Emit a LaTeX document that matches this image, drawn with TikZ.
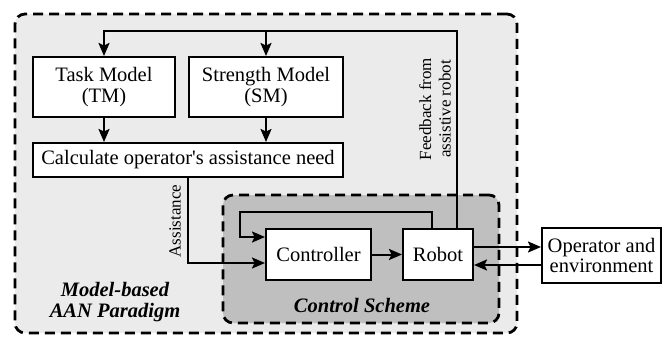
\documentclass[tikz,border=0pt]{standalone}
\usepackage{fontspec}
\setmainfont{Liberation Serif}[Ligatures=TeXOff]
\usetikzlibrary{arrows.meta}
\definecolor{outerfill}{HTML}{EBEBEB}
\definecolor{innerfill}{HTML}{BFBFBF}
\begin{document}
\begin{tikzpicture}[x=1pt,y=-1pt,
  box/.style={draw,line width=2pt,fill=white,inner sep=0pt,align=center},
  conn/.style={line width=2pt},
  arr/.style={conn,-{Stealth[length=13pt,width=11pt,inset=2.5pt]}},
  region/.style={draw,line width=2.8pt,dash pattern=on 10pt off 6pt,rounded corners=10pt,inner sep=0pt},
  lbl/.style={inner sep=0pt,align=center,font=\fontsize{17}{19.5}\selectfont},
  title/.style={inner sep=0pt,align=center,font=\fontsize{20.5}{21}\selectfont\bfseries\itshape},
  font=\fontsize{20.5}{20.5}\selectfont]
\useasboundingbox (0,0) rectangle (667,337);
% regions
\node[region,fill=outerfill,minimum width=502pt,minimum height=319pt] (outer) at (266,173.5) {};
\node[region,fill=innerfill,minimum width=276pt,minimum height=128pt] (inner) at (361,259) {};
% boxes
\node[box,minimum width=142pt,minimum height=60pt] (tm) at (104,87) {Task Model\\(TM)};
\node[box,minimum width=154pt,minimum height=60pt] (sm) at (266,87) {Strength Model\\(SM)};
\node[box,minimum width=310pt,minimum height=34pt] (calc) at (188,160) {Calculate operator's assistance need};
\node[box,minimum width=105pt,minimum height=51pt] (ctl) at (318.5,254.5) {Controller};
\node[box,minimum width=70pt,minimum height=51pt] (rob) at (438,254.5) {Robot};
\node[box,minimum width=119pt,minimum height=55pt] (op) at (601.5,255.5) {Operator and\\environment};
% helper coordinates
\coordinate (fbtop) at (457,31);
\coordinate (fbout) at (457,229);
\coordinate (loopout) at (432,229);
\coordinate (looptl) at (240,212);
\coordinate (loopin) at (240,237);
\coordinate (assin) at (188,263);
\coordinate (toop) at (0,247);
\coordinate (fromop) at (0,265);
% connectors
\draw[arr] (fbout) -- (fbtop) -| (tm.north);
\draw[arr] (sm.north |- fbtop) -- (sm.north);
\draw[arr] (tm.south) -- (tm.south |- calc.north);
\draw[arr] (sm.south) -- (sm.south |- calc.north);
\draw[arr] (calc.south) -- (assin) -- (ctl.west |- assin);
\draw[arr] (loopout) |- (looptl) -- (loopin) -- (ctl.west |- loopin);
\draw[arr] (ctl.east) -- (rob.west);
\draw[arr] (rob.east |- toop) -- (op.west |- toop);
\draw[arr] (op.west |- fromop) -- (rob.east |- fromop);
% labels
\node[lbl,rotate=90] (asslbl) at (175,221) {Assistance};
\node[lbl,rotate=90] (fblbl) at (435,109) {Feedback from\\assistive robot};
\node[title] (outerlbl) at (115,302.5) {Model-based\\AAN Paradigm};
\node[title] (innerlbl) at (362,305) {Control Scheme};
\end{tikzpicture}
\end{document}
